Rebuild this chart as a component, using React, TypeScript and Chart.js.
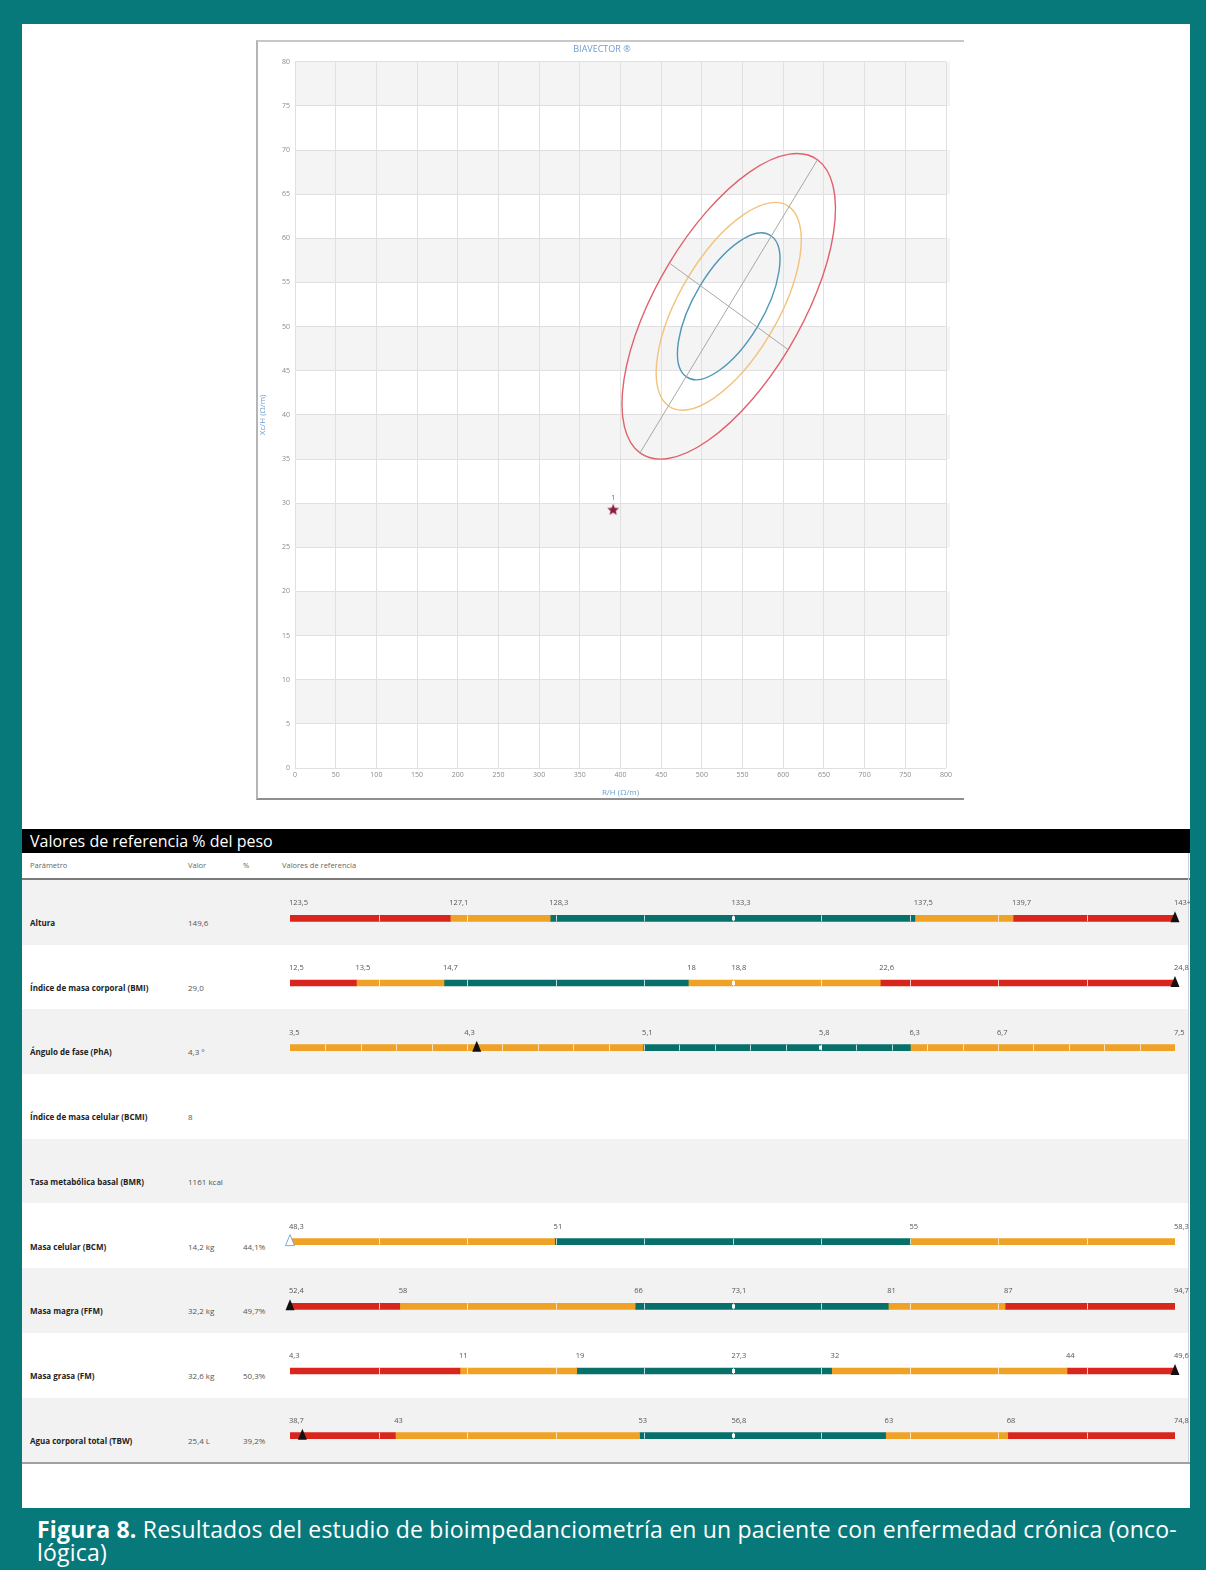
import React, { useEffect, useRef } from 'react';
import { Chart, registerables } from 'chart.js';

Chart.register(...registerables);

const FONT = "'Open Sans', 'Noto Sans', 'DejaVu Sans', sans-serif";
const TEAL_PAGE = '#07797a';

// ---------------- Biavector (RXc graph) ----------------
const chartTitle = 'BIAVECTOR ®';
const xAxisTitle = 'R/H (Ω/m)';
const yAxisTitle = 'Xc/H (Ω/m)';
const xRange = [0, 800];
const yRange = [0, 80];
const xStep = 50;
const yStep = 5;
// tolerance ellipses: centre and the two half-axis vectors of the outer ellipse (data units)
const ellipseCenter = { x: 533, y: 52.3 };
const ellipseMajorHalf = { x: 109, y: 16.6 };
const ellipseMinorHalf = { x: 73, y: -4.9 };
const ellipseLevels = ['95%', '75%', '50%'];
const ellipseSizes = [1, 0.68, 0.48];
const ellipseColors = ['#e2606b', '#f3c27c', '#4f97b8'];
const patientPoints = [{ x: 391, y: 29.3 }];
const patientLabels = ['1'];

// ---------------- Reference table ----------------
const tableTitle = 'Valores de referencia % del peso';
const columnHeaders = ['Parámetro', 'Valor', '%', 'Valores de referencia'];
const paramNames = [
  'Altura',
  'Índice de masa corporal (BMI)',
  'Ángulo de fase (PhA)',
  'Índice de masa celular (BCMI)',
  'Tasa metabólica basal (BMR)',
  'Masa celular (BCM)',
  'Masa magra (FFM)',
  'Masa grasa (FM)',
  'Agua corporal total (TBW)',
];
const paramValues = ['149,6', '29,0', '4,3 °', '8', '1161 kcal', '14,2 kg', '32,2 kg', '32,6 kg', '25,4 L'];
const paramPercents = ['', '', '', '', '', '44,1%', '49,7%', '50,3%', '39,2%'];
// segment boundaries along each reference bar, in % of bar length
const segmentEdges: number[][] = [
  [0, 18.1, 29.4, 70.6, 81.7, 100],
  [0, 7.5, 17.4, 45.0, 66.7, 100],
  [0, 39.9, 70.1, 100],
  [],
  [],
  [0, 29.9, 70.1, 100],
  [0, 12.4, 39.0, 67.6, 80.8, 100],
  [0, 19.2, 32.4, 61.2, 87.8, 100],
  [0, 11.9, 39.5, 67.3, 81.1, 100],
];
// R = fuera de rango, O = límite, T = normal
const segmentZones: string[][] = [
  ['R', 'O', 'T', 'O', 'R'],
  ['R', 'O', 'T', 'O', 'R'],
  ['O', 'T', 'O'],
  [],
  [],
  ['O', 'T', 'O'],
  ['R', 'O', 'T', 'O', 'R'],
  ['R', 'O', 'T', 'O', 'R'],
  ['R', 'O', 'T', 'O', 'R'],
];
const refLabelPos: number[][] = [
  [0, 18.1, 29.4, 50, 70.6, 81.7, 100],
  [0, 7.5, 17.4, 45.0, 50, 66.7, 100],
  [0, 19.8, 39.9, 59.9, 70.1, 80.0, 100],
  [],
  [],
  [0, 29.9, 70.1, 100],
  [0, 12.4, 39.0, 50, 67.6, 80.8, 100],
  [0, 19.2, 32.4, 50, 61.2, 87.8, 100],
  [0, 11.9, 39.5, 50, 67.3, 81.1, 100],
];
const refLabelText: string[][] = [
  ['123,5', '127,1', '128,3', '133,3', '137,5', '139,7', '143+'],
  ['12,5', '13,5', '14,7', '18', '18,8', '22,6', '24,8'],
  ['3,5', '4,3', '5,1', '5,8', '6,3', '6,7', '7,5'],
  [],
  [],
  ['48,3', '51', '55', '58,3'],
  ['52,4', '58', '66', '73,1', '81', '87', '94,7'],
  ['4,3', '11', '19', '27,3', '32', '44', '49,6'],
  ['38,7', '43', '53', '56,8', '63', '68', '74,8'],
];
const medianPos: (number | null)[] = [50, 50, 59.9, null, null, null, 50, 50, 50];
const markerPos: (number | null)[] = [100, 100, 21.1, null, null, 0, 0, 100, 1.4];
const markerHollow = [false, false, false, false, false, true, false, false, false];
const tickStep = [10, 10, 4, 10, 10, 10, 10, 10, 10];

const zoneColor: Record<string, string> = { R: '#d8261d', O: '#efa226', T: '#07706b' };

function makeStar(color: string) {
  const c = document.createElement('canvas');
  c.width = 14;
  c.height = 14;
  const g = c.getContext('2d')!;
  g.fillStyle = color;
  g.beginPath();
  for (let i = 0; i < 10; i++) {
    const r = i % 2 === 0 ? 6.2 : 2.7;
    const a = -Math.PI / 2 + (i * Math.PI) / 5;
    const px = 7 + r * Math.cos(a);
    const py = 7.6 + r * Math.sin(a);
    if (i === 0) g.moveTo(px, py);
    else g.lineTo(px, py);
  }
  g.closePath();
  g.fill();
  return c;
}

const bandPlugin = {
  id: 'bands',
  beforeDraw(chart: any) {
    const { ctx, chartArea, scales } = chart;
    const y = scales.y;
    ctx.save();
    ctx.fillStyle = '#f4f4f4';
    for (let v = yRange[1]; v > yRange[0]; v -= 2 * yStep) {
      const top = y.getPixelForValue(v);
      const bot = y.getPixelForValue(v - yStep);
      ctx.fillRect(chartArea.left, top, chartArea.right - chartArea.left + 4, bot - top);
    }
    ctx.restore();
  },
};

const ellipsePlugin = {
  id: 'ellipses',
  beforeDatasetsDraw(chart: any) {
    const { ctx, scales } = chart;
    const x = scales.x;
    const y = scales.y;
    const cx = x.getPixelForValue(ellipseCenter.x);
    const cy = y.getPixelForValue(ellipseCenter.y);
    ellipseSizes.forEach((s, i) => {
      const ux = x.getPixelForValue(ellipseCenter.x + s * ellipseMajorHalf.x) - cx;
      const uy = y.getPixelForValue(ellipseCenter.y + s * ellipseMajorHalf.y) - cy;
      const vx = x.getPixelForValue(ellipseCenter.x + s * ellipseMinorHalf.x) - cx;
      const vy = y.getPixelForValue(ellipseCenter.y + s * ellipseMinorHalf.y) - cy;
      ctx.save();
      ctx.beginPath();
      ctx.save();
      ctx.transform(ux, uy, vx, vy, cx, cy);
      ctx.arc(0, 0, 1, 0, Math.PI * 2);
      ctx.restore();
      ctx.strokeStyle = ellipseColors[i];
      ctx.lineWidth = 1.4;
      ctx.stroke();
      ctx.restore();
    });
  },
};

const pointLabelPlugin = {
  id: 'pointLabels',
  afterDatasetsDraw(chart: any) {
    const { ctx, scales } = chart;
    ctx.save();
    ctx.fillStyle = '#777';
    ctx.font = `8px ${FONT}`;
    ctx.textAlign = 'center';
    ctx.textBaseline = 'alphabetic';
    patientPoints.forEach((p, i) => {
      ctx.fillText(patientLabels[i], scales.x.getPixelForValue(p.x), scales.y.getPixelForValue(p.y) - 9);
    });
    ctx.restore();
  },
};

const refPlugin = {
  id: 'refMarks',
  afterDatasetsDraw(chart: any) {
    const { ctx, scales } = chart;
    const x = scales.x;
    const y = scales.y;
    ctx.save();
    paramNames.forEach((_, r) => {
      if (!segmentEdges[r].length) return;
      const cy = y.getPixelForValue(r);
      const top = cy - 3;
      const bot = cy + 3;
      // tick marks
      ctx.strokeStyle = 'rgba(255,255,255,0.75)';
      ctx.lineWidth = 1;
      for (let t = tickStep[r]; t < 99.9; t += tickStep[r]) {
        const px = Math.round(x.getPixelForValue(t)) + 0.5;
        ctx.beginPath();
        ctx.moveTo(px, top);
        ctx.lineTo(px, bot);
        ctx.stroke();
      }
      // median mark
      const m = medianPos[r];
      if (m !== null) {
        ctx.fillStyle = '#ffffff';
        ctx.fillRect(Math.round(x.getPixelForValue(m)) - 1, top + 1, 3, 4);
      }
      // value labels
      ctx.fillStyle = '#555';
      ctx.font = `7.5px ${FONT}`;
      ctx.textAlign = 'left';
      ctx.textBaseline = 'alphabetic';
      refLabelText[r].forEach((t, k) => {
        ctx.fillText(t, x.getPixelForValue(refLabelPos[r][k]) - 1, cy - 13);
      });
      // patient marker
      const mk = markerPos[r];
      if (mk !== null) {
        const px = x.getPixelForValue(mk);
        ctx.beginPath();
        ctx.moveTo(px, cy - 7);
        ctx.lineTo(px + 4.5, cy + 4);
        ctx.lineTo(px - 4.5, cy + 4);
        ctx.closePath();
        if (markerHollow[r]) {
          ctx.fillStyle = '#ffffff';
          ctx.fill();
          ctx.strokeStyle = '#7fa9cf';
          ctx.lineWidth = 1;
          ctx.stroke();
        } else {
          ctx.fillStyle = '#111';
          ctx.fill();
        }
      }
    });
    ctx.restore();
  },
};

const ROW_TOP = 880;
const ROW_H = 64.7;

export default function App() {
  const topRef = useRef<HTMLCanvasElement>(null);
  const barRef = useRef<HTMLCanvasElement>(null);

  useEffect(() => {
    document.body.style.margin = '0';
    const star = makeStar('#8c1b3b');
    const majorLine = [
      { x: ellipseCenter.x - ellipseMajorHalf.x, y: ellipseCenter.y - ellipseMajorHalf.y },
      { x: ellipseCenter.x + ellipseMajorHalf.x, y: ellipseCenter.y + ellipseMajorHalf.y },
    ];
    const minorLine = [
      { x: ellipseCenter.x - ellipseMinorHalf.x, y: ellipseCenter.y - ellipseMinorHalf.y },
      { x: ellipseCenter.x + ellipseMinorHalf.x, y: ellipseCenter.y + ellipseMinorHalf.y },
    ];
    const axisColor = '#6c9bd2';
    const c1 = new Chart(topRef.current!, {
      type: 'scatter',
      data: {
        datasets: [
          { type: 'line', label: 'eje mayor', data: majorLine, borderColor: '#a8a8a8', borderWidth: 1, pointRadius: 0, fill: false } as any,
          { type: 'line', label: 'eje menor', data: minorLine, borderColor: '#a8a8a8', borderWidth: 1, pointRadius: 0, fill: false } as any,
          { type: 'scatter', label: 'paciente', data: patientPoints, pointStyle: star, pointRadius: 7 } as any,
        ],
      },
      options: {
        animation: false,
        responsive: false,
        maintainAspectRatio: false,
        layout: { padding: { left: 0, right: 16, top: 0, bottom: 0 } },
        plugins: {
          legend: { display: false },
          tooltip: { enabled: false },
          title: {
            display: true,
            text: chartTitle,
            color: axisColor,
            font: { size: 9, family: FONT, weight: 'normal' },
            padding: { top: 2, bottom: 7 },
          },
        },
        scales: {
          x: {
            type: 'linear',
            min: xRange[0],
            max: xRange[1],
            ticks: { stepSize: xStep, color: '#8a8a8a', font: { size: 7, family: FONT }, padding: 3 },
            grid: { color: '#e0e0e0', drawTicks: false },
            border: { display: false },
            title: { display: true, text: xAxisTitle, color: axisColor, font: { size: 8, family: FONT }, padding: { top: 2, bottom: 0 } },
            afterFit: (s: any) => {
              s.height = 30;
            },
          },
          y: {
            type: 'linear',
            min: yRange[0],
            max: yRange[1],
            ticks: { stepSize: yStep, color: '#8a8a8a', font: { size: 7, family: FONT }, padding: 5 },
            grid: { color: '#e0e0e0', drawTicks: false },
            border: { display: false },
            title: { display: true, text: yAxisTitle, color: axisColor, font: { size: 8, family: FONT }, padding: { top: 0, bottom: 0 } },
            afterFit: (s: any) => {
              s.width = 37;
            },
          },
        },
      } as any,
      plugins: [bandPlugin, ellipsePlugin, pointLabelPlugin],
    });

    const maxSeg = Math.max(...segmentZones.map((z) => z.length));
    const datasets = [] as any[];
    for (let k = 0; k < maxSeg; k++) {
      datasets.push({
        label: 'segmento ' + (k + 1),
        data: segmentEdges.map((e) => (e.length - 1 > k ? [e[k], e[k + 1]] : null)),
        backgroundColor: segmentZones.map((z) => (z[k] ? zoneColor[z[k]] : 'transparent')),
        borderWidth: 0,
        barThickness: 6,
        grouped: false,
      });
    }
    const c2 = new Chart(barRef.current!, {
      type: 'bar',
      data: { labels: paramNames, datasets },
      options: {
        indexAxis: 'y',
        animation: false,
        responsive: false,
        maintainAspectRatio: false,
        layout: { padding: { left: 8, right: 15, top: 0, bottom: 0 } },
        plugins: { legend: { display: false }, tooltip: { enabled: false } },
        scales: {
          x: { type: 'linear', min: 0, max: 100, display: false },
          y: { display: false },
        },
      } as any,
      plugins: [refPlugin],
    });
    return () => {
      c1.destroy();
      c2.destroy();
    };
  }, []);

  const smallGray: React.CSSProperties = { position: 'absolute', fontSize: 7.5, color: '#666', whiteSpace: 'nowrap' };

  return (
    <div style={{ position: 'absolute', left: 0, top: 0, width: 1206, height: 1570, background: TEAL_PAGE, fontFamily: FONT, overflow: 'hidden' }}>
      <div style={{ position: 'absolute', left: 22, top: 24, width: 1168, height: 1484, background: '#ffffff' }} />
      {/* chart frame */}
      <div
        style={{
          position: 'absolute',
          left: 256,
          top: 40,
          width: 706,
          height: 756,
          borderLeft: '2px solid #b5b5b5',
          borderTop: '2px solid #c8c8c8',
          borderBottom: '2px solid #8f8f8f',
        }}
      />
      <canvas ref={topRef} width={704} height={756} style={{ position: 'absolute', left: 258, top: 42, width: 704, height: 756 }} />

      {/* table */}
      <div style={{ position: 'absolute', left: 22, top: 829, width: 1168, height: 24, background: '#000', color: '#fff', fontSize: 16, lineHeight: '24px', paddingLeft: 8, boxSizing: 'border-box', whiteSpace: 'nowrap' }}>
        {tableTitle}
      </div>
      <div style={{ position: 'absolute', left: 22, top: 853, width: 1168, height: 27, borderBottom: '2px solid #7a7a7a', boxSizing: 'border-box' }} />
      <div style={{ ...smallGray, left: 30, top: 860 }}>{columnHeaders[0]}</div>
      <div style={{ ...smallGray, left: 188, top: 860 }}>{columnHeaders[1]}</div>
      <div style={{ ...smallGray, left: 243, top: 860 }}>{columnHeaders[2]}</div>
      <div style={{ ...smallGray, left: 282, top: 860 }}>{columnHeaders[3]}</div>
      {paramNames.map((name, i) => {
        const top = ROW_TOP + i * ROW_H;
        return (
          <React.Fragment key={name}>
            <div style={{ position: 'absolute', left: 22, top, width: 1166, height: ROW_H, background: i % 2 === 0 ? '#f2f2f2' : '#ffffff' }} />
            <div style={{ position: 'absolute', left: 30, top: top + 36, fontSize: 8, fontWeight: 700, color: '#222', lineHeight: '14px', whiteSpace: 'nowrap' }}>{name}</div>
            <div style={{ position: 'absolute', left: 188, top: top + 36, fontSize: 8, color: '#555', lineHeight: '14px', whiteSpace: 'nowrap' }}>{paramValues[i]}</div>
            <div style={{ position: 'absolute', left: 243, top: top + 36, fontSize: 8, color: '#555', lineHeight: '14px', whiteSpace: 'nowrap' }}>{paramPercents[i]}</div>
          </React.Fragment>
        );
      })}
      <div style={{ position: 'absolute', left: 1188, top: 853, width: 1, height: 1462 - 853, background: '#cfcfcf' }} />
      <div style={{ position: 'absolute', left: 22, top: 1462, width: 1168, height: 2, background: '#a0a0a0' }} />
      <canvas ref={barRef} width={908} height={582} style={{ position: 'absolute', left: 282, top: 886, width: 908, height: 582 }} />

      {/* caption */}
      <div style={{ position: 'absolute', left: 37, top: 1518, color: '#ffffff', fontSize: 23, lineHeight: '23px', letterSpacing: 0.2, whiteSpace: 'nowrap' }}>
        <b>Figura 8.</b> Resultados del estudio de bioimpedanciometría en un paciente con enfermedad crónica (onco-
        <br />
        lógica)
      </div>
    </div>
  );
}
